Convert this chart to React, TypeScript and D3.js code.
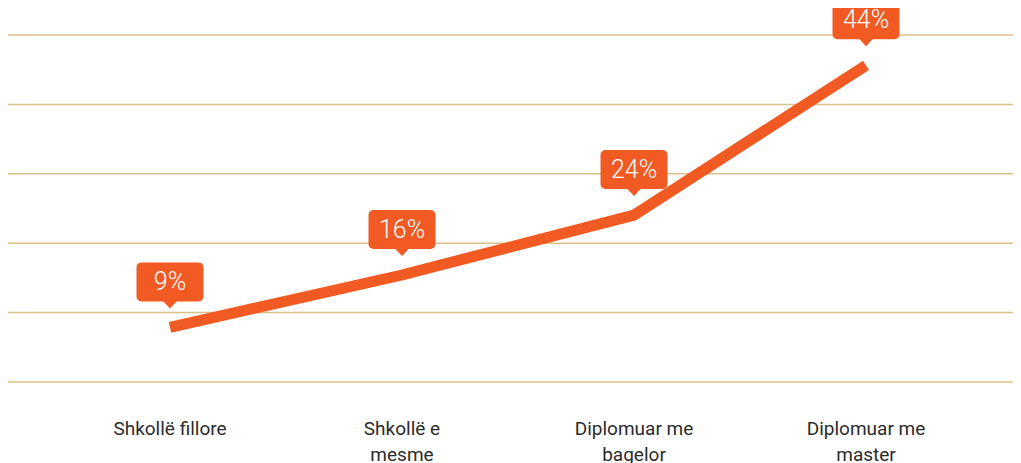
import React from "react";
import * as d3 from "d3";

const categories: string[][] = [
  ["Shkollë fillore"],
  ["Shkollë e", "mesme"],
  ["Diplomuar me", "bagelor"],
  ["Diplomuar me", "master"],
];
const values: number[] = [9, 16, 24, 44];
const valueLabels: string[] = ["9%", "16%", "24%", "44%"];
const gridCount = 6;

const W = 1013;
const H = 455;
const ORANGE = "#F15A22";
const GRID = "#DCC08A";

export default function App() {
  const keys = categories.map((c) => c.join(" "));
  const x = d3.scalePoint<string>().domain(keys).range([162, 858]);
  const y = d3.scaleLinear().domain([0, 50]).range([386.8, 12.4]);
  const gridY = d3.scaleLinear().domain([0, gridCount - 1]).range([374, 27]);

  const pts: [number, number][] = values.map((v, i) => [x(keys[i]) as number, y(v)]);
  const line = d3.line<[number, number]>().x((d) => d[0]).y((d) => d[1]);

  const boxW = 67;
  const boxH = 39;
  const tipH = 7;

  return (
    <svg width={W} height={H} style={{ display: "block", overflow: "visible" }}>
      {d3.range(gridCount).map((i) => (
        <line key={i} x1={0} x2={W} y1={gridY(i)} y2={gridY(i)} stroke={GRID} strokeWidth={1.5} />
      ))}
      <path d={line(pts) || ""} fill="none" stroke={ORANGE} strokeWidth={11} strokeLinejoin="round" strokeLinecap="butt" />
      {pts.map(([px, py], i) => {
        const tip = py - 19;
        const bottom = tip - tipH;
        const top = bottom - boxH;
        const cx = px;
        return (
          <g key={i}>
            <rect x={cx - boxW / 2} y={top} width={boxW} height={boxH} rx={5} fill={ORANGE} />
            <path d={`M${cx - 7},${bottom - 0.5}L${cx},${tip}L${cx + 7},${bottom - 0.5}Z`} fill={ORANGE} />
            <text
              x={cx}
              y={top + boxH / 2 + 8.5}
              textAnchor="middle"
              fill="#fff"
              fontFamily="Roboto, 'Noto Sans', sans-serif"
              fontWeight={300}
              fontSize={25}
            >
              {valueLabels[i]}
            </text>
          </g>
        );
      })}
      {categories.map((lines, i) => (
        <text
          key={i}
          x={x(keys[i])}
          textAnchor="middle"
          fill="#2b2b2b"
          fontFamily="Roboto, 'Noto Sans', sans-serif"
          fontSize={19}
        >
          {lines.map((l, j) => (
            <tspan key={j} x={x(keys[i])} y={427 + j * 26}>
              {l}
            </tspan>
          ))}
        </text>
      ))}
    </svg>
  );
}
